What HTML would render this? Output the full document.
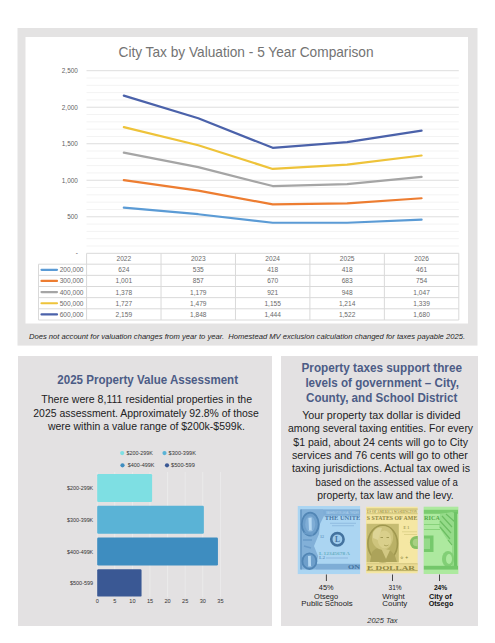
<!DOCTYPE html><html><head><meta charset="utf-8"><style>html,body{margin:0;padding:0;background:#fff;}svg{display:block;font-family:"Liberation Sans", sans-serif;}</style></head><body>
<svg width="495" height="643" viewBox="0 0 495 643">
<rect x="17.5" y="28" width="460" height="317.6" fill="#E4E3E3"/>
<rect x="25.5" y="37" width="442.5" height="286.5" fill="#FFFFFF"/>
<text x="118.5" y="57.4" font-size="14.5" fill="#737373" text-anchor="start" textLength="255" lengthAdjust="spacingAndGlyphs">City Tax by Valuation - 5 Year Comparison</text>
<line x1="86.5" y1="246.00" x2="458.8" y2="246.00" stroke="#F3F3F3" stroke-width="1"/>
<line x1="86.5" y1="238.69" x2="458.8" y2="238.69" stroke="#F3F3F3" stroke-width="1"/>
<line x1="86.5" y1="231.39" x2="458.8" y2="231.39" stroke="#F3F3F3" stroke-width="1"/>
<line x1="86.5" y1="224.08" x2="458.8" y2="224.08" stroke="#F3F3F3" stroke-width="1"/>
<line x1="86.5" y1="216.78" x2="458.8" y2="216.78" stroke="#DEDEDE" stroke-width="1"/>
<line x1="86.5" y1="209.48" x2="458.8" y2="209.48" stroke="#F3F3F3" stroke-width="1"/>
<line x1="86.5" y1="202.17" x2="458.8" y2="202.17" stroke="#F3F3F3" stroke-width="1"/>
<line x1="86.5" y1="194.87" x2="458.8" y2="194.87" stroke="#F3F3F3" stroke-width="1"/>
<line x1="86.5" y1="187.56" x2="458.8" y2="187.56" stroke="#F3F3F3" stroke-width="1"/>
<line x1="86.5" y1="180.26" x2="458.8" y2="180.26" stroke="#DEDEDE" stroke-width="1"/>
<line x1="86.5" y1="172.96" x2="458.8" y2="172.96" stroke="#F3F3F3" stroke-width="1"/>
<line x1="86.5" y1="165.65" x2="458.8" y2="165.65" stroke="#F3F3F3" stroke-width="1"/>
<line x1="86.5" y1="158.35" x2="458.8" y2="158.35" stroke="#F3F3F3" stroke-width="1"/>
<line x1="86.5" y1="151.04" x2="458.8" y2="151.04" stroke="#F3F3F3" stroke-width="1"/>
<line x1="86.5" y1="143.74" x2="458.8" y2="143.74" stroke="#DEDEDE" stroke-width="1"/>
<line x1="86.5" y1="136.44" x2="458.8" y2="136.44" stroke="#F3F3F3" stroke-width="1"/>
<line x1="86.5" y1="129.13" x2="458.8" y2="129.13" stroke="#F3F3F3" stroke-width="1"/>
<line x1="86.5" y1="121.83" x2="458.8" y2="121.83" stroke="#F3F3F3" stroke-width="1"/>
<line x1="86.5" y1="114.52" x2="458.8" y2="114.52" stroke="#F3F3F3" stroke-width="1"/>
<line x1="86.5" y1="107.22" x2="458.8" y2="107.22" stroke="#DEDEDE" stroke-width="1"/>
<line x1="86.5" y1="99.92" x2="458.8" y2="99.92" stroke="#F3F3F3" stroke-width="1"/>
<line x1="86.5" y1="92.61" x2="458.8" y2="92.61" stroke="#F3F3F3" stroke-width="1"/>
<line x1="86.5" y1="85.31" x2="458.8" y2="85.31" stroke="#F3F3F3" stroke-width="1"/>
<line x1="86.5" y1="78.00" x2="458.8" y2="78.00" stroke="#F3F3F3" stroke-width="1"/>
<line x1="86.5" y1="70.70" x2="458.8" y2="70.70" stroke="#DEDEDE" stroke-width="1"/>
<text x="77.8" y="72.99999999999999" font-size="6.4" fill="#5F5F5F" text-anchor="end">2,500</text>
<text x="77.8" y="109.52" font-size="6.4" fill="#5F5F5F" text-anchor="end">2,000</text>
<text x="77.8" y="146.04000000000002" font-size="6.4" fill="#5F5F5F" text-anchor="end">1,500</text>
<text x="77.8" y="182.56" font-size="6.4" fill="#5F5F5F" text-anchor="end">1,000</text>
<text x="77.8" y="219.08" font-size="6.4" fill="#5F5F5F" text-anchor="end">500</text>
<text x="77.8" y="254.8" font-size="6.4" fill="#595959" text-anchor="end">-</text>
<polyline points="123.82,207.72 198.26,214.22 272.70,222.77 347.14,222.77 421.58,219.63" fill="none" stroke="#5B9BD5" stroke-width="2.2" stroke-linejoin="round" stroke-linecap="round"/>
<polyline points="123.82,180.19 198.26,190.70 272.70,204.36 347.14,203.41 421.58,198.23" fill="none" stroke="#ED7D31" stroke-width="2.2" stroke-linejoin="round" stroke-linecap="round"/>
<polyline points="123.82,152.65 198.26,167.19 272.70,186.03 347.14,184.06 421.58,176.83" fill="none" stroke="#A5A5A5" stroke-width="2.2" stroke-linejoin="round" stroke-linecap="round"/>
<polyline points="123.82,127.16 198.26,145.27 272.70,168.94 347.14,164.63 421.58,155.50" fill="none" stroke="#EEC33A" stroke-width="2.2" stroke-linejoin="round" stroke-linecap="round"/>
<polyline points="123.82,95.61 198.26,118.32 272.70,147.83 347.14,142.13 421.58,130.59" fill="none" stroke="#4B62AA" stroke-width="2.2" stroke-linejoin="round" stroke-linecap="round"/>
<line x1="86.6" y1="253.3" x2="458.79999999999995" y2="253.3" stroke="#D9D9D9" stroke-width="1"/>
<line x1="38.5" y1="264.2" x2="458.79999999999995" y2="264.2" stroke="#D9D9D9" stroke-width="1"/>
<line x1="38.5" y1="275.35" x2="458.79999999999995" y2="275.35" stroke="#D9D9D9" stroke-width="1"/>
<line x1="38.5" y1="286.5" x2="458.79999999999995" y2="286.5" stroke="#D9D9D9" stroke-width="1"/>
<line x1="38.5" y1="297.65" x2="458.79999999999995" y2="297.65" stroke="#D9D9D9" stroke-width="1"/>
<line x1="38.5" y1="308.8" x2="458.79999999999995" y2="308.8" stroke="#D9D9D9" stroke-width="1"/>
<line x1="38.5" y1="320.0" x2="458.79999999999995" y2="320.0" stroke="#D9D9D9" stroke-width="1"/>
<line x1="86.6" y1="253.3" x2="86.6" y2="320.0" stroke="#D9D9D9" stroke-width="1"/>
<line x1="161.04" y1="253.3" x2="161.04" y2="320.0" stroke="#D9D9D9" stroke-width="1"/>
<line x1="235.48" y1="253.3" x2="235.48" y2="320.0" stroke="#D9D9D9" stroke-width="1"/>
<line x1="309.91999999999996" y1="253.3" x2="309.91999999999996" y2="320.0" stroke="#D9D9D9" stroke-width="1"/>
<line x1="384.36" y1="253.3" x2="384.36" y2="320.0" stroke="#D9D9D9" stroke-width="1"/>
<line x1="458.79999999999995" y1="253.3" x2="458.79999999999995" y2="320.0" stroke="#D9D9D9" stroke-width="1"/>
<line x1="38.5" y1="264.2" x2="38.5" y2="320.0" stroke="#D9D9D9" stroke-width="1"/>
<text x="123.82" y="261.3" font-size="6.6" fill="#6A6A6A" text-anchor="middle">2022</text>
<text x="198.26" y="261.3" font-size="6.6" fill="#6A6A6A" text-anchor="middle">2023</text>
<text x="272.7" y="261.3" font-size="6.6" fill="#6A6A6A" text-anchor="middle">2024</text>
<text x="347.14" y="261.3" font-size="6.6" fill="#6A6A6A" text-anchor="middle">2025</text>
<text x="421.58000000000004" y="261.3" font-size="6.6" fill="#6A6A6A" text-anchor="middle">2026</text>
<line x1="41.5" y1="269.8" x2="57" y2="269.8" stroke="#5B9BD5" stroke-width="2.2" stroke-linecap="round"/>
<text x="83.5" y="272.2" font-size="6.6" fill="#6A6A6A" text-anchor="end">200,000</text>
<text x="123.82" y="272.2" font-size="6.6" fill="#6A6A6A" text-anchor="middle">624</text>
<text x="198.26" y="272.2" font-size="6.6" fill="#6A6A6A" text-anchor="middle">535</text>
<text x="272.7" y="272.2" font-size="6.6" fill="#6A6A6A" text-anchor="middle">418</text>
<text x="347.14" y="272.2" font-size="6.6" fill="#6A6A6A" text-anchor="middle">418</text>
<text x="421.58000000000004" y="272.2" font-size="6.6" fill="#6A6A6A" text-anchor="middle">461</text>
<line x1="41.5" y1="280.95000000000005" x2="57" y2="280.95000000000005" stroke="#ED7D31" stroke-width="2.2" stroke-linecap="round"/>
<text x="83.5" y="283.35" font-size="6.6" fill="#6A6A6A" text-anchor="end">300,000</text>
<text x="123.82" y="283.35" font-size="6.6" fill="#6A6A6A" text-anchor="middle">1,001</text>
<text x="198.26" y="283.35" font-size="6.6" fill="#6A6A6A" text-anchor="middle">857</text>
<text x="272.7" y="283.35" font-size="6.6" fill="#6A6A6A" text-anchor="middle">670</text>
<text x="347.14" y="283.35" font-size="6.6" fill="#6A6A6A" text-anchor="middle">683</text>
<text x="421.58000000000004" y="283.35" font-size="6.6" fill="#6A6A6A" text-anchor="middle">754</text>
<line x1="41.5" y1="292.1" x2="57" y2="292.1" stroke="#A5A5A5" stroke-width="2.2" stroke-linecap="round"/>
<text x="83.5" y="294.5" font-size="6.6" fill="#6A6A6A" text-anchor="end">400,000</text>
<text x="123.82" y="294.5" font-size="6.6" fill="#6A6A6A" text-anchor="middle">1,378</text>
<text x="198.26" y="294.5" font-size="6.6" fill="#6A6A6A" text-anchor="middle">1,179</text>
<text x="272.7" y="294.5" font-size="6.6" fill="#6A6A6A" text-anchor="middle">921</text>
<text x="347.14" y="294.5" font-size="6.6" fill="#6A6A6A" text-anchor="middle">948</text>
<text x="421.58000000000004" y="294.5" font-size="6.6" fill="#6A6A6A" text-anchor="middle">1,047</text>
<line x1="41.5" y1="303.25" x2="57" y2="303.25" stroke="#EEC33A" stroke-width="2.2" stroke-linecap="round"/>
<text x="83.5" y="305.65" font-size="6.6" fill="#6A6A6A" text-anchor="end">500,000</text>
<text x="123.82" y="305.65" font-size="6.6" fill="#6A6A6A" text-anchor="middle">1,727</text>
<text x="198.26" y="305.65" font-size="6.6" fill="#6A6A6A" text-anchor="middle">1,479</text>
<text x="272.7" y="305.65" font-size="6.6" fill="#6A6A6A" text-anchor="middle">1,155</text>
<text x="347.14" y="305.65" font-size="6.6" fill="#6A6A6A" text-anchor="middle">1,214</text>
<text x="421.58000000000004" y="305.65" font-size="6.6" fill="#6A6A6A" text-anchor="middle">1,339</text>
<line x1="41.5" y1="314.40000000000003" x2="57" y2="314.40000000000003" stroke="#4B62AA" stroke-width="2.2" stroke-linecap="round"/>
<text x="83.5" y="316.8" font-size="6.6" fill="#6A6A6A" text-anchor="end">600,000</text>
<text x="123.82" y="316.8" font-size="6.6" fill="#6A6A6A" text-anchor="middle">2,159</text>
<text x="198.26" y="316.8" font-size="6.6" fill="#6A6A6A" text-anchor="middle">1,848</text>
<text x="272.7" y="316.8" font-size="6.6" fill="#6A6A6A" text-anchor="middle">1,444</text>
<text x="347.14" y="316.8" font-size="6.6" fill="#6A6A6A" text-anchor="middle">1,522</text>
<text x="421.58000000000004" y="316.8" font-size="6.6" fill="#6A6A6A" text-anchor="middle">1,680</text>
<text x="29" y="339" font-size="7.6" fill="#262626" text-anchor="start" font-style="italic" textLength="436" lengthAdjust="spacingAndGlyphs">Does not account for valuation changes from year to year.  Homestead MV exclusion calculation changed for taxes payable 2025.</text>
<rect x="18" y="356" width="254" height="270" fill="#E3E1E2"/>
<text x="57.3" y="383.7" font-size="12.4" fill="#4C5C86" text-anchor="start" font-weight="bold" textLength="180.7" lengthAdjust="spacingAndGlyphs">2025 Property Value Assessment</text>
<text x="41.3" y="403.2" font-size="11.6" fill="#222222" text-anchor="start" textLength="210.8" lengthAdjust="spacingAndGlyphs">There were 8,111 residential properties in the</text>
<text x="33.3" y="416.5" font-size="11.6" fill="#222222" text-anchor="start" textLength="225.6" lengthAdjust="spacingAndGlyphs">2025 assessment. Approximately 92.8% of those</text>
<text x="47.9" y="429.8" font-size="11.6" fill="#222222" text-anchor="start" textLength="196.9" lengthAdjust="spacingAndGlyphs">were within a value range of $200k-$599k.</text>
<line x1="97.20" y1="472" x2="97.20" y2="597" stroke="#ECECEC" stroke-width="0.8"/>
<line x1="114.80" y1="472" x2="114.80" y2="597" stroke="#ECECEC" stroke-width="0.8"/>
<line x1="132.40" y1="472" x2="132.40" y2="597" stroke="#ECECEC" stroke-width="0.8"/>
<line x1="150.00" y1="472" x2="150.00" y2="597" stroke="#ECECEC" stroke-width="0.8"/>
<line x1="167.60" y1="472" x2="167.60" y2="597" stroke="#ECECEC" stroke-width="0.8"/>
<line x1="185.20" y1="472" x2="185.20" y2="597" stroke="#ECECEC" stroke-width="0.8"/>
<line x1="202.80" y1="472" x2="202.80" y2="597" stroke="#ECECEC" stroke-width="0.8"/>
<line x1="220.40" y1="472" x2="220.40" y2="597" stroke="#ECECEC" stroke-width="0.8"/>
<rect x="97.2" y="474.0" width="54.91" height="28.00" rx="1.2" fill="#7EDFE3"/>
<text x="93.2" y="490.0" font-size="5.6" fill="#333333" text-anchor="end" textLength="26.2" lengthAdjust="spacingAndGlyphs">$200-299K</text>
<rect x="97.2" y="505.7" width="106.66" height="28.10" rx="1.2" fill="#5AB3D6"/>
<text x="93.2" y="521.75" font-size="5.6" fill="#333333" text-anchor="end" textLength="26.2" lengthAdjust="spacingAndGlyphs">$300-399K</text>
<rect x="97.2" y="537.5" width="120.74" height="28.00" rx="1.2" fill="#3E8DC0"/>
<text x="93.2" y="553.5" font-size="5.6" fill="#333333" text-anchor="end" textLength="26.2" lengthAdjust="spacingAndGlyphs">$400-499K</text>
<rect x="97.2" y="569.2" width="44.35" height="27.40" rx="1.2" fill="#3A5894"/>
<text x="93.2" y="584.9000000000001" font-size="5.6" fill="#333333" text-anchor="end" textLength="23.3" lengthAdjust="spacingAndGlyphs">$500-599</text>
<text x="97.2" y="603.1" font-size="5.6" fill="#333333" text-anchor="middle">0</text>
<text x="114.8" y="603.1" font-size="5.6" fill="#333333" text-anchor="middle">5</text>
<text x="132.4" y="603.1" font-size="5.6" fill="#333333" text-anchor="middle">10</text>
<text x="150.0" y="603.1" font-size="5.6" fill="#333333" text-anchor="middle">15</text>
<text x="167.6" y="603.1" font-size="5.6" fill="#333333" text-anchor="middle">20</text>
<text x="185.2" y="603.1" font-size="5.6" fill="#333333" text-anchor="middle">25</text>
<text x="202.8" y="603.1" font-size="5.6" fill="#333333" text-anchor="middle">30</text>
<text x="220.4" y="603.1" font-size="5.6" fill="#333333" text-anchor="middle">35</text>
<circle cx="122.2" cy="453.1" r="2.1" fill="#7EDFE3"/>
<text x="126.6" y="455.1" font-size="5.6" fill="#333333" text-anchor="start" textLength="26.2" lengthAdjust="spacingAndGlyphs">$200-299K</text>
<circle cx="164.5" cy="453.1" r="2.1" fill="#5AB3D6"/>
<text x="168.6" y="455.1" font-size="5.6" fill="#333333" text-anchor="start" textLength="27.3" lengthAdjust="spacingAndGlyphs">$300-399K</text>
<circle cx="122.5" cy="465.3" r="2.1" fill="#3E8DC0"/>
<text x="127.8" y="467.3" font-size="5.6" fill="#333333" text-anchor="start" textLength="26.6" lengthAdjust="spacingAndGlyphs">$400-499K</text>
<circle cx="167.0" cy="465.3" r="2.1" fill="#3A5894"/>
<text x="171.0" y="467.3" font-size="5.6" fill="#333333" text-anchor="start" textLength="23.8" lengthAdjust="spacingAndGlyphs">$500-599</text>
<rect x="281" y="356" width="197" height="270" fill="#E3E1E2"/>
<text x="301.5" y="372.3" font-size="13" fill="#4C5C86" text-anchor="start" font-weight="bold" textLength="160.5" lengthAdjust="spacingAndGlyphs">Property taxes support three</text>
<text x="305.4" y="386.90000000000003" font-size="13" fill="#4C5C86" text-anchor="start" font-weight="bold" textLength="153.5" lengthAdjust="spacingAndGlyphs">levels of government – City,</text>
<text x="306.0" y="402.3" font-size="13" fill="#4C5C86" text-anchor="start" font-weight="bold" textLength="151.4" lengthAdjust="spacingAndGlyphs">County, and School District</text>
<text x="302.2" y="418.79999999999995" font-size="11.8" fill="#222222" text-anchor="start" textLength="158.4" lengthAdjust="spacingAndGlyphs">Your property tax dollar is divided</text>
<text x="288.0" y="432.2" font-size="11.8" fill="#222222" text-anchor="start" textLength="185.1" lengthAdjust="spacingAndGlyphs">among several taxing entities. For every</text>
<text x="293.3" y="445.59999999999997" font-size="11.8" fill="#222222" text-anchor="start" textLength="174.6" lengthAdjust="spacingAndGlyphs">$1 paid, about 24 cents will go to City</text>
<text x="292.0" y="459.0" font-size="11.8" fill="#222222" text-anchor="start" textLength="175.9" lengthAdjust="spacingAndGlyphs">services and 76 cents will go to other</text>
<text x="292.0" y="472.4" font-size="11.8" fill="#222222" text-anchor="start" textLength="178.0" lengthAdjust="spacingAndGlyphs">taxing jurisdictions. Actual tax owed is</text>
<text x="315.6" y="485.79999999999995" font-size="11.8" fill="#222222" text-anchor="start" textLength="142.2" lengthAdjust="spacingAndGlyphs">based on the assessed value of a</text>
<text x="317.2" y="499.2" font-size="11.8" fill="#222222" text-anchor="start" textLength="136.5" lengthAdjust="spacingAndGlyphs">property, tax law and the levy.</text>
<defs>
<clipPath id="cy"><rect x="365.8" y="506.5" width="52" height="67"/></clipPath>
<clipPath id="cg"><rect x="423.4" y="506.4" width="35.2" height="67.6"/></clipPath>
<clipPath id="cb"><rect x="297.5" y="506" width="62.8" height="68.3"/></clipPath>
</defs>
<g id="blue" clip-path="url(#cb)">
<rect x="297.5" y="506" width="62.8" height="68.3" fill="#ABD5F2"/>
<rect x="300.8" y="509.4" width="59.5" height="6.4" fill="#7EADD6"/>
<rect x="316" y="563.8" width="44.3" height="5.8" fill="#7EADD6"/>
<path d="M300.8,509.4 H323 L324,516 L320,524 L319,534 L314,546 L318,556 L316,569.6 H300.8 Z" fill="#82B0D8"/>
<path d="M301,509.4 V569.6" stroke="#6596C3" stroke-width="1.6"/>
<ellipse cx="310.2" cy="524.2" rx="8.5" ry="11.5" fill="#6E9FCB" stroke="#5286B5" stroke-width="1.8"/>
<ellipse cx="310.2" cy="524.2" rx="5" ry="8" fill="#7FADD6"/>
<path d="M308.4,518 L311.6,517.6 L311.8,530 L313,530.5 L308,530.5 L309,530 Z" fill="#B5D8F2"/>
<ellipse cx="309.4" cy="561.2" rx="7" ry="7.8" fill="#6E9FCB" stroke="#5286B5" stroke-width="1.8"/>
<path d="M308,556 L310.8,555.8 L311,566 L312,566.4 L307.4,566.4 L308.2,566 Z" fill="#B5D8F2"/>
<path d="M303,540 L312,540 M304,546 L311,548 M304,533 L313,535" stroke="#6A9BC8" stroke-width="1.4"/>
<text x="324.8" y="520.3" font-family="Liberation Serif" font-weight="bold" font-size="6.6" fill="#4A78A6" textLength="35.5" lengthAdjust="spacingAndGlyphs">THE UNITE</text>
<text x="326" y="513.8" font-size="3.5" fill="#B8D8F1" textLength="33" lengthAdjust="spacingAndGlyphs">WASHINGTON LEGAL TENDER</text>
<rect x="330" y="522.8" width="26" height="0.9" fill="#8DB8DE"/>
<rect x="332" y="525.3" width="22" height="0.9" fill="#8DB8DE"/>
<circle cx="337.4" cy="539.3" r="6.2" fill="#9FCBEC" stroke="#44739F" stroke-width="2.6"/>
<text x="337.4" y="542.2" font-family="Liberation Serif" font-weight="bold" font-size="7.5" fill="#44739F" text-anchor="middle">L</text>
<text x="319" y="554.5" font-family="Liberation Serif" font-weight="bold" font-size="4.6" fill="#67AFC2" textLength="31" lengthAdjust="spacingAndGlyphs">L 12345678 A</text>
<text x="319" y="559.3" font-family="Liberation Serif" font-weight="bold" font-size="4" fill="#6A9BC6" textLength="6" lengthAdjust="spacingAndGlyphs">L2</text>
<rect x="326" y="557.5" width="22" height="1" fill="#8DB8DE"/>
<text x="320" y="537.5" font-family="Liberation Serif" font-weight="bold" font-size="4" fill="#6A9BC6">12</text>
<text x="348" y="568.6" font-family="Liberation Serif" font-weight="bold" font-size="5.5" fill="#44739F" textLength="12" lengthAdjust="spacingAndGlyphs">ON</text>
</g>
<g id="yellow" clip-path="url(#cy)">
<rect x="365.8" y="506.5" width="52" height="67" fill="#F5E7A3"/>
<rect x="366.6" y="508.6" width="51.2" height="0.9" fill="#B9AE60"/>
<text x="367" y="512.6" font-family="Liberation Serif" font-weight="bold" font-size="4" fill="#9F954B" textLength="50" lengthAdjust="spacingAndGlyphs">ES OF AMERICA WASHINGTON</text>
<rect x="366.6" y="513.4" width="51.2" height="0.8" fill="#C7BC6E"/>
<text x="366.8" y="520" font-family="Liberation Serif" font-weight="bold" font-size="6" fill="#8E8642" textLength="50.5" lengthAdjust="spacingAndGlyphs">S STATES OF AME</text>
<rect x="366.6" y="523.8" width="32.2" height="38.5" fill="#C6BC72"/>
<ellipse cx="382.7" cy="543.6" rx="14.8" ry="18.2" fill="#BAB166" stroke="#A0984F" stroke-width="1.6"/>
<path d="M370,562 L372,552 C375,548 379,547 382,548 C388,548 392,551 395,556 L397,562 Z" fill="#ACA35A"/>
<path d="M372,540 C371,531 376,526 383,526 C390,526 394,531 393,539 C392,545 389,549 384,550 C378,550 373,546 372,540 Z" fill="#CEC47D"/>
<ellipse cx="384.5" cy="539.5" rx="6.8" ry="9" fill="#D9CF8B"/>
<path d="M373,533 C375,528 379,527 382,528 L378,540 L373,538 Z" fill="#DDD496"/>
<path d="M381,548 L386,559 L390,550 Z" fill="#D2C883"/>
<path d="M380.5,537.5 L383,537.5 M386.5,537.5 L389,537.5" stroke="#9A924C" stroke-width="0.9"/>
<path d="M384,545 C385.5,546 387,546 388.5,545" stroke="#A0984F" stroke-width="0.8" fill="none"/>
<text x="403.5" y="528.5" font-family="Liberation Serif" font-weight="bold" font-size="4" fill="#A59D55">E 1</text>
<rect x="402" y="531.5" width="15" height="0.7" fill="#D6CB80"/>
<rect x="404" y="534" width="13" height="0.7" fill="#D6CB80"/>
<circle cx="416.5" cy="542.5" r="6.6" fill="#86BF63"/>
<circle cx="416.5" cy="542.5" r="3.8" fill="#A9D083"/>
<text x="400" y="559" font-family="Liberation Serif" font-weight="bold" font-size="4" fill="#A59D55">☆ ✦</text>
<rect x="366.6" y="563.6" width="51.2" height="0.8" fill="#B3A95B"/>
<rect x="366.6" y="564.4" width="51.2" height="5.8" fill="#EADB93"/>
<text x="367" y="569.6" font-family="Liberation Serif" font-weight="bold" font-size="5.6" fill="#8E8642" textLength="48" lengthAdjust="spacingAndGlyphs">E DOLLAR</text>
<rect x="366.6" y="570.2" width="51.2" height="0.9" fill="#B3A95B"/>
</g>
<g id="green" clip-path="url(#cg)">
<rect x="423.4" y="506.4" width="35.2" height="67.6" fill="#ADE99F"/>
<rect x="423.8" y="509.8" width="34.2" height="4" fill="#7ACB6F"/>
<text x="424" y="520" font-family="Liberation Serif" font-weight="bold" font-size="6" fill="#55A84C" textLength="16" lengthAdjust="spacingAndGlyphs">RICA</text>
<path d="M440,514 L452,512 L456,514 L456,568 L452,568 L452,546 L446,538 L439,527 Z" fill="#95DB89"/>
<path d="M442,516 L452,527 M440,521 L451,533 M440,527 L450,539 M446,514 L455,522 M448,540 L452,545" stroke="#6DBE63" stroke-width="1.2"/>
<rect x="454" y="512" width="3.2" height="56" fill="#6FC366"/>
<rect x="424" y="535.5" width="9.5" height="16.5" fill="#76C96C"/>
<rect x="424" y="538.5" width="6" height="10.5" fill="#95DA89"/>
<rect x="424" y="524" width="16" height="0.9" fill="#84D078"/>
<rect x="424" y="529" width="16" height="0.9" fill="#84D078"/>
<ellipse cx="448" cy="559" rx="6" ry="8" fill="#82CF76"/>
<ellipse cx="449" cy="559" rx="3" ry="5" fill="#ADE99F"/>
<rect x="423.8" y="565.8" width="34.2" height="3.8" fill="#74C76A"/>
</g>

<line x1="326.4" y1="574.5" x2="326.4" y2="581" stroke="#333333" stroke-width="0.9"/>
<line x1="392.5" y1="574.5" x2="392.5" y2="581" stroke="#333333" stroke-width="0.9"/>
<line x1="439.5" y1="574.5" x2="439.5" y2="581" stroke="#333333" stroke-width="0.9"/>
<text x="326.2" y="589.9" font-size="6.5" fill="#222222" text-anchor="middle" textLength="14.7" lengthAdjust="spacingAndGlyphs">45%</text>
<text x="326.1" y="598.8" font-size="6.8" fill="#222222" text-anchor="middle" textLength="24" lengthAdjust="spacingAndGlyphs">Otsego</text>
<text x="327.0" y="605.8" font-size="6.8" fill="#222222" text-anchor="middle" textLength="51.3" lengthAdjust="spacingAndGlyphs">Public Schools</text>
<text x="395.1" y="589.9" font-size="6.5" fill="#222222" text-anchor="middle" textLength="13.1" lengthAdjust="spacingAndGlyphs">31%</text>
<text x="393.5" y="598.8" font-size="6.8" fill="#222222" text-anchor="middle" textLength="22.5" lengthAdjust="spacingAndGlyphs">Wright</text>
<text x="394.8" y="605.8" font-size="6.8" fill="#222222" text-anchor="middle" textLength="25" lengthAdjust="spacingAndGlyphs">County</text>
<text x="440.6" y="589.9" font-size="6.5" fill="#111111" text-anchor="middle" font-weight="bold" textLength="13.4" lengthAdjust="spacingAndGlyphs">24%</text>
<text x="440.3" y="598.8" font-size="6.8" fill="#111111" text-anchor="middle" font-weight="bold" textLength="22.6" lengthAdjust="spacingAndGlyphs">City of</text>
<text x="441.0" y="605.8" font-size="6.8" fill="#111111" text-anchor="middle" font-weight="bold" textLength="24.7" lengthAdjust="spacingAndGlyphs">Otsego</text>
<text x="367.3" y="622.8" font-size="6.5" fill="#333333" text-anchor="start" font-style="italic" textLength="30.3" lengthAdjust="spacingAndGlyphs">2025 Tax</text>
</svg></body></html>
